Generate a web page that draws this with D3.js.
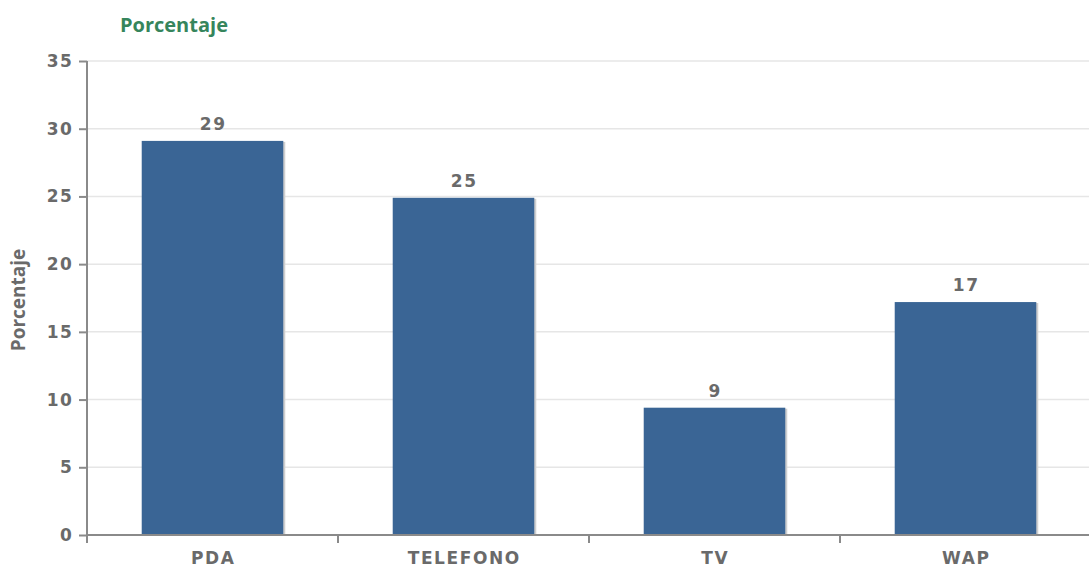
<!DOCTYPE html>
<html>
<head>
<meta charset="utf-8">
<script src="https://cdn.jsdelivr.net/npm/d3@7"></script>
<style>
  html, body { margin: 0; padding: 0; background: #fff; }
  svg { display: block; }
</style>
</head>
<body>
<svg id="chart" width="1089" height="567"></svg>
<script>
// Access-channel shares (percent)
const categories = ["PDA", "TELEFONO", "TV", "WAP"];
const values = [29.1, 24.9, 9.4, 17.2];
const yTicks = [0, 5, 10, 15, 20, 25, 30, 35];
const chartTitle = "Porcentaje";
const yAxisTitle = "Porcentaje";

const svg = d3.select("#chart");
const plotLeft = 87, plotRight = 1091, plotTop = 61, plotBottom = 535;

const x = d3.scaleBand()
  .domain(categories)
  .range([plotLeft, plotRight])
  .paddingInner(0.436)
  .paddingOuter(0.218);

const y = d3.scaleLinear().domain([0, 35]).range([plotBottom, plotTop]);

const gray = "#6a6a6a";
const axisColor = "#8a8a8a";
const labelFont = "DejaVu Sans";
const labelSize = 17;
const labelSpacing = 1.6;

// Horizontal grid
svg.append("g")
  .selectAll("line")
  .data(yTicks.filter(d => d > 0))
  .join("line")
  .attr("x1", plotLeft).attr("x2", 1089)
  .attr("y1", d => y(d)).attr("y2", d => y(d))
  .attr("stroke", "#e6e6e6").attr("stroke-width", 1.5);

// Bar shadow
svg.append("g")
  .selectAll("rect")
  .data(values)
  .join("rect")
  .attr("x", (d, i) => x(categories[i]) + 2)
  .attr("y", d => y(d) + 1)
  .attr("width", x.bandwidth())
  .attr("height", d => plotBottom - y(d) - 1)
  .attr("fill", "#cfcfcf");

// Bars
svg.append("g")
  .selectAll("rect")
  .data(values)
  .join("rect")
  .attr("x", (d, i) => x(categories[i]))
  .attr("y", d => y(d))
  .attr("width", x.bandwidth())
  .attr("height", d => plotBottom - y(d))
  .attr("fill", "#3a6595");

// Value labels
svg.append("g")
  .selectAll("text")
  .data(values)
  .join("text")
  .attr("x", (d, i) => x(categories[i]) + x.bandwidth() / 2 + labelSpacing / 2)
  .attr("y", d => y(d) - 11)
  .attr("text-anchor", "middle")
  .attr("font-family", labelFont)
  .attr("font-weight", "bold")
  .attr("font-size", labelSize)
  .attr("letter-spacing", labelSpacing)
  .attr("fill", gray)
  .text(d => d3.format(".0f")(d));

// Y axis
const yAxis = svg.append("g")
  .attr("transform", `translate(${plotLeft},0)`)
  .call(d3.axisLeft(y).tickValues(yTicks).tickSize(8).tickPadding(5.5));
yAxis.select(".domain").remove();
yAxis.selectAll(".tick line").attr("stroke", axisColor).attr("stroke-width", 2);
yAxis.selectAll(".tick text")
  .attr("font-family", labelFont)
  .attr("font-weight", "bold")
  .attr("font-size", labelSize)
  .attr("letter-spacing", labelSpacing)
  .attr("fill", gray);
svg.append("line")
  .attr("x1", plotLeft).attr("x2", plotLeft)
  .attr("y1", plotTop).attr("y2", plotBottom + 8)
  .attr("stroke", axisColor).attr("stroke-width", 2);

// X axis with separators between categories
svg.append("line")
  .attr("x1", plotLeft).attr("x2", 1089)
  .attr("y1", plotBottom).attr("y2", plotBottom)
  .attr("stroke", axisColor).attr("stroke-width", 2);
const gapHalf = x.step() * x.paddingInner() / 2;
svg.append("g")
  .selectAll("line")
  .data(categories.slice(1))
  .join("line")
  .attr("x1", d => x(d) - gapHalf)
  .attr("x2", d => x(d) - gapHalf)
  .attr("y1", plotBottom).attr("y2", plotBottom + 8)
  .attr("stroke", axisColor).attr("stroke-width", 2);

svg.append("g")
  .selectAll("text")
  .data(categories)
  .join("text")
  .attr("x", d => x(d) + x.bandwidth() / 2 + labelSpacing / 2)
  .attr("y", plotBottom + 29)
  .attr("text-anchor", "middle")
  .attr("font-family", labelFont)
  .attr("font-weight", "bold")
  .attr("font-size", labelSize)
  .attr("letter-spacing", labelSpacing)
  .attr("fill", gray)
  .text(d => d);

// Titles
svg.append("text")
  .attr("x", 120).attr("y", 32)
  .attr("font-family", "Open Sans")
  .attr("font-weight", "bold")
  .attr("font-size", 20)
  .attr("fill", "#36855c")
  .text(chartTitle);

svg.append("text")
  .attr("transform", `translate(25,300) rotate(-90)`)
  .attr("text-anchor", "middle")
  .attr("font-family", "Open Sans")
  .attr("font-weight", "bold")
  .attr("font-size", 19)
  .attr("fill", gray)
  .text(yAxisTitle);
</script>
</body>
</html>
